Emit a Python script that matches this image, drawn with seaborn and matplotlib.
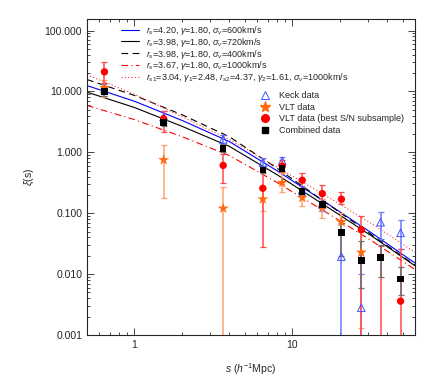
import matplotlib
matplotlib.use("Agg")
import matplotlib.pyplot as plt
from matplotlib.lines import Line2D
import numpy as np
import pandas as pd
import seaborn as sns

sns.set_style("ticks")
plt.rcParams["font.family"] = ["Liberation Sans", "DejaVu Sans"]
plt.rcParams["mathtext.fontset"] = "custom"
plt.rcParams["mathtext.rm"] = "Liberation Sans"
plt.rcParams["mathtext.it"] = "Liberation Sans:italic"
plt.rcParams["mathtext.bf"] = "Liberation Sans:bold"

# ---- model curves ----
s_model = [0.5, 1, 2, 4, 8, 16, 32, 60]
xi_blue = [12.5, 6.9, 3.35, 1.5, 0.5, 0.155, 0.047, 0.0152]
xi_black = [9.75, 5.45, 2.68, 1.25, 0.43, 0.136, 0.042, 0.0137]
xi_dashed = [15.7, 8.6, 4.15, 1.8, 0.55, 0.155, 0.044, 0.014]
xi_dashdot = [5.9, 3.45, 1.81, 0.885, 0.32, 0.108, 0.035, 0.0119]
xi_dotted = [18.8, 9.0, 3.85, 1.62, 0.575, 0.2, 0.067, 0.0228]

model_labels = [
    r"$r_s$=4.20, $\gamma$=1.80, $\sigma_v$=600km/s",
    r"$r_s$=3.98, $\gamma$=1.80, $\sigma_v$=720km/s",
    r"$r_s$=3.98, $\gamma$=1.80, $\sigma_v$=400km/s",
    r"$r_s$=3.67, $\gamma$=1.80, $\sigma_v$=1000km/s",
    r"$r_{s1}$=3.04, $\gamma_1$=2.48, $r_{s2}$=4.37, $\gamma_2$=1.61, $\sigma_v$=1000km/s",
]

# ---- data points ----
s_bins = [0.645, 1.53, 3.65, 6.51, 8.64, 11.57, 15.5, 20.5, 27.4, 36.3, 48.6]

keck = [11.0, 3.8, 1.63, 0.68, 0.72, 0.24, 0.14, 0.0194, 0.0028, 0.0712, 0.0476]
keck_lo = [8.5, 3.0, 1.35, 0.55, 0.6, 0.2, 0.11, 1e-5, 0.0009, 0.0375, 0.0263]
keck_hi = [13.5, 4.7, 1.9, 0.8, 0.85, 0.28, 0.17, 0.045, 0.01, 0.103, 0.078]

s_vlt = s_bins[:9]
vlt = [11.5, 0.75, 0.12, 0.17, 0.318, 0.18, 0.124, 0.072, 0.0227]
vlt_lo = [8.0, 0.18, 1e-5, 0.11, 0.22, 0.13, 0.085, 0.045, 0.0013]
vlt_hi = [15.5, 1.32, 0.27, 0.26, 0.45, 0.24, 0.17, 0.1, 0.05]

best = [21.0, 3.57, 0.61, 0.257, 0.596, 0.348, 0.21, 0.17, 0.0535, 0.0006, 0.0036]
best_lo = [14.0, 2.13, 0.318, 0.0284, 0.47, 0.26, 0.16, 0.14, 1e-5, 1e-5, 1e-5]
best_hi = [30.7, 4.7, 0.93, 0.53, 0.75, 0.465, 0.29, 0.22, 0.09, 0.029, 0.026]

comb = [10.0, 3.07, 1.16, 0.513, 0.547, 0.227, 0.14, 0.048, 0.0166, 0.0188, 0.0083]
comb_lo = [8.5, 2.7, 1.0, 0.45, 0.5, 0.2, 0.12, 0.02, 0.006, 0.009, 0.0045]
comb_hi = [12.0, 3.5, 1.35, 0.58, 0.6, 0.26, 0.16, 0.07, 0.035, 0.03, 0.013]

fig = plt.figure(figsize=(4.36, 3.87), dpi=100)
ax = fig.add_axes([87 / 436, 52 / 387, 328 / 436, 316 / 387])
ax.set_xscale("log")
ax.set_yscale("log")

models = pd.DataFrame({
    "s": s_model * 5,
    "xi": xi_blue + xi_black + xi_dashed + xi_dashdot + xi_dotted,
    "model": sum([[lab] * len(s_model) for lab in model_labels], []),
})
colors = ["#0000ff", "black", "black", "#ff0000", "#ff3030"]
styles = ["-", "-", (0, (6, 4)), (0, (6, 3, 1, 3)), (0, (1, 2))]
for lab, c, ls in zip(model_labels, colors, styles):
    sub = models[models["model"] == lab]
    sns.lineplot(data=sub, x="s", y="xi", ax=ax, color=c, lw=0.8,
                 linestyle=ls, legend=False, zorder=2)


def draw(sx, y, lo, hi, ecol, **kw):
    y = np.array(y)
    err = [y - np.array(lo), np.array(hi) - y]
    ax.errorbar(sx, y, yerr=err, fmt="none", ecolor=ecol, elinewidth=1.1,
                capsize=2.5, capthick=0.9, zorder=3)
    sns.scatterplot(x=sx, y=y, ax=ax, zorder=4, legend=False, **kw)


draw(s_bins, keck, keck_lo, keck_hi, "#6a7cff", marker="^", s=30,
     facecolor="none", edgecolor="#4050ff", linewidth=0.7)
draw(s_vlt, vlt, vlt_lo, vlt_hi, "#ffa070", marker="*", s=70,
     color="#ff6a10", edgecolor="none")
draw(s_bins, best, best_lo, best_hi, "#ff4a4a", marker="o", s=28,
     color="#ff0000", edgecolor="none")
draw(s_bins, comb, comb_lo, comb_hi, "#707070", marker="s", s=22,
     color="black", edgecolor="none")

ax.set_xlim(0.5, 60)
ax.set_ylim(0.001, 155)
ax.set_xticks([1, 10])
ax.set_xticklabels(["1", "10"])
ax.set_yticks([0.001, 0.01, 0.1, 1, 10, 100])
ax.set_yticklabels(["0.001", "0.010", "0.100", "1.000", "10.000", "100.000"])
ax.tick_params(which="both", direction="in", top=True, right=True,
               labelsize=7.5, width=0.6)
ax.tick_params(which="major", length=5)
ax.tick_params(which="minor", length=2.5)
for sp in ax.spines.values():
    sp.set_linewidth(0.8)

ax.set_xlabel(r"$s$ ($h^{-1}$Mpc)", fontsize=7.5, labelpad=8)
ax.set_ylabel(r"$\xi$(s)", fontsize=7.5, labelpad=6)

line_handles = [Line2D([], [], color=c, lw=0.8, linestyle=ls)
                for c, ls in zip(colors, styles)]
leg1 = ax.legend(line_handles, model_labels, loc="upper left",
                 bbox_to_anchor=(0.105, 0.985), frameon=False, fontsize=6.5,
                 handlelength=2.0, handletextpad=0.7, labelspacing=-0.12,
                 borderpad=0, borderaxespad=0)
ax.add_artist(leg1)

mk_handles = [
    Line2D([], [], ls="none", marker="^", mfc="none", mec="#4050ff", ms=6, mew=0.7),
    Line2D([], [], ls="none", marker="*", color="#ff6a10", ms=8),
    Line2D([], [], ls="none", marker="o", color="#ff0000", ms=5.5),
    Line2D([], [], ls="none", marker="s", color="black", ms=5),
]
mk_labels = ["Keck data", "VLT data", "VLT data (best S/N subsample)", "Combined data"]
ax.legend(mk_handles, mk_labels, loc="upper left", bbox_to_anchor=(0.525, 0.772),
          frameon=False, fontsize=6.5, handlelength=1.2, handletextpad=1.0,
          labelspacing=0.3, borderpad=0, borderaxespad=0)

fig.savefig("out.png", dpi=100)
